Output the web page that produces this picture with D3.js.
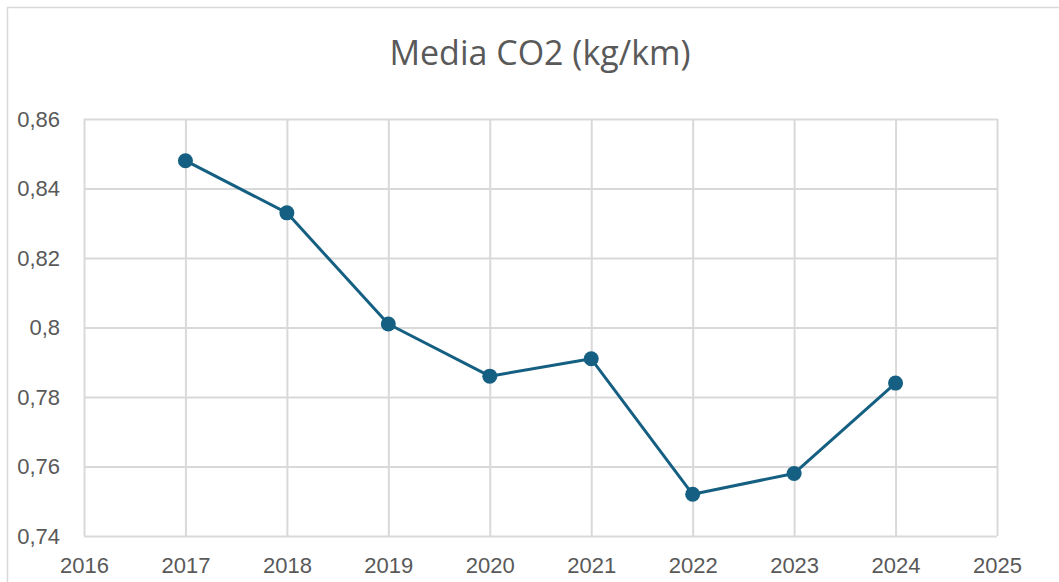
<!DOCTYPE html>
<html>
<head>
<meta charset="utf-8">
<script src="https://cdn.jsdelivr.net/npm/d3@7"></script>
<style>
  body { margin: 0; background: #fff; }
  svg { display: block; font-family: "Open Sans", sans-serif; }
  .grid line { stroke: #d9d9d9; stroke-width: 2; }
  .tick text { fill: #595959; }
</style>
</head>
<body>
<svg id="chart" width="1059" height="582"></svg>
<script>
// values
const years = [2017, 2018, 2019, 2020, 2021, 2022, 2023, 2024];
const co2 = [0.848, 0.833, 0.801, 0.786, 0.791, 0.752, 0.758, 0.784];
const xTicks = [2016, 2017, 2018, 2019, 2020, 2021, 2022, 2023, 2024, 2025];
const yTicks = [0.74, 0.76, 0.78, 0.80, 0.82, 0.84, 0.86];
const title = "Media CO2 (kg/km)";

const svg = d3.select("#chart");
const plotLeft = 84, plotRight = 997, plotTop = 119, plotBottom = 536;

// chart frame
svg.append("rect")
    .attr("x", 7.5).attr("y", 7.5)
    .attr("width", 1060).attr("height", 600)
    .attr("fill", "none")
    .attr("stroke", "#d9d9d9")
    .attr("stroke-width", 1.5);

const x = d3.scaleLinear().domain([2016, 2025]).range([plotLeft, plotRight]);
const y = d3.scaleLinear().domain([0.74, 0.86]).range([plotBottom, plotTop]);

// comma as decimal separator, trailing zeros dropped (0,8)
const fmt = v => String(+v.toFixed(2)).replace(".", ",");

// vertical grid + x labels
const xAxis = svg.append("g")
    .attr("class", "grid")
    .attr("transform", `translate(0,${plotBottom})`)
    .call(d3.axisBottom(x).tickValues(xTicks).tickFormat(d3.format("d"))
        .tickSize(-(plotBottom - plotTop)).tickPadding(21));
xAxis.select(".domain").remove();
xAxis.selectAll("text").style("font-size", "22px");

// horizontal grid + y labels
const yAxis = svg.append("g")
    .attr("class", "grid")
    .attr("transform", `translate(${plotLeft},0)`)
    .call(d3.axisLeft(y).tickValues(yTicks).tickFormat(fmt)
        .tickSize(-(plotRight - plotLeft)).tickPadding(24));
yAxis.select(".domain").remove();
yAxis.selectAll("text").style("font-size", "22px");

// title
svg.append("text")
    .attr("x", 540).attr("y", 65)
    .attr("text-anchor", "middle")
    .attr("fill", "#595959")
    .style("font-size", "34px")
    .text(title);

const points = years.map((yr, i) => ({ yr: yr, v: co2[i] }));

svg.append("path")
    .datum(points)
    .attr("fill", "none")
    .attr("stroke", "#156082")
    .attr("stroke-width", 3)
    .attr("stroke-linejoin", "round")
    .attr("d", d3.line().x(d => x(d.yr)).y(d => y(d.v)));

svg.selectAll("circle.pt")
    .data(points)
    .join("circle")
    .attr("class", "pt")
    .attr("cx", d => x(d.yr))
    .attr("cy", d => y(d.v))
    .attr("r", 7.5)
    .attr("fill", "#156082");
</script>
</body>
</html>
